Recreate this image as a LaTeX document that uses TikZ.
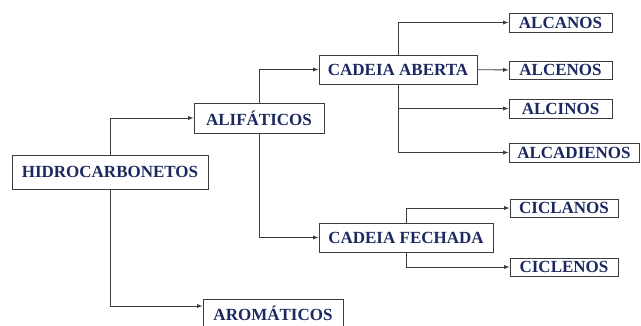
\documentclass[tikz,border=0pt]{standalone}
\usepackage{fontspec}
\setmainfont{Liberation Serif}
\usepackage{tikz}
\usetikzlibrary{arrows,positioning}
\definecolor{navy}{RGB}{28,40,96}
\definecolor{linegray}{RGB}{60,60,60}

\begin{document}
\begin{tikzpicture}
[x=1pt,y=-1pt,
box/.style={rectangle,draw=linegray,line width=1pt,fill=white,inner sep=0pt,text=navy,font=\fontsize{17}{20}\selectfont\bfseries},
link/.style={draw=linegray,line width=0.9pt,-latex}]
\useasboundingbox (0,0) rectangle (641,325);
\node[box] (hidro) at (110,172) [minimum width=196pt,minimum height=34pt] {HIDROCARBONETOS};
\node[box] (alif) at (259,118) [minimum width=130pt,minimum height=30pt] {ALIFÁTICOS};
\node[box] (arom) at (273,313.5) [minimum width=140pt,minimum height=29pt] {AROMÁTICOS};
\node[box] (aberta) at (398,69.5) [minimum width=158pt,minimum height=29pt] {CADEIA ABERTA};
\node[box] (fechada) at (406,237.5) [minimum width=174pt,minimum height=29pt] {CADEIA FECHADA};
\node[box] (alcanos) at (560.5,22.5) [minimum width=103pt,minimum height=19pt] {ALCANOS};
\node[box] (alcenos) at (560.5,70) [minimum width=103pt,minimum height=18pt] {ALCENOS};
\node[box] (alcinos) at (560.5,108.5) [minimum width=103pt,minimum height=19pt] {ALCINOS};
\node[box] (alcadienos) at (574,152.5) [minimum width=130pt,minimum height=19pt] {ALCADIENOS};
\node[box] (ciclanos) at (564,208) [minimum width=108pt,minimum height=18pt] {CICLANOS};
\node[box] (ciclenos) at (564,267) [minimum width=108pt,minimum height=18pt] {CICLENOS};

\draw [link] (hidro) |- (alif);
\draw [link] (hidro) |- ([yshift=7.5pt]arom.west);
\draw [link] (alif) |- (aberta);
\draw [link] (alif) |- (fechada);
\draw [link] (aberta) |- (alcanos);
\draw [link] (aberta) -- (alcenos);
\draw [link] (aberta) |- (alcinos);
\draw [link] (aberta) |- (alcadienos);
\draw [link] (fechada) |- (ciclanos);
\draw [link] (fechada) |- (ciclenos);
\end{tikzpicture}
\end{document}
